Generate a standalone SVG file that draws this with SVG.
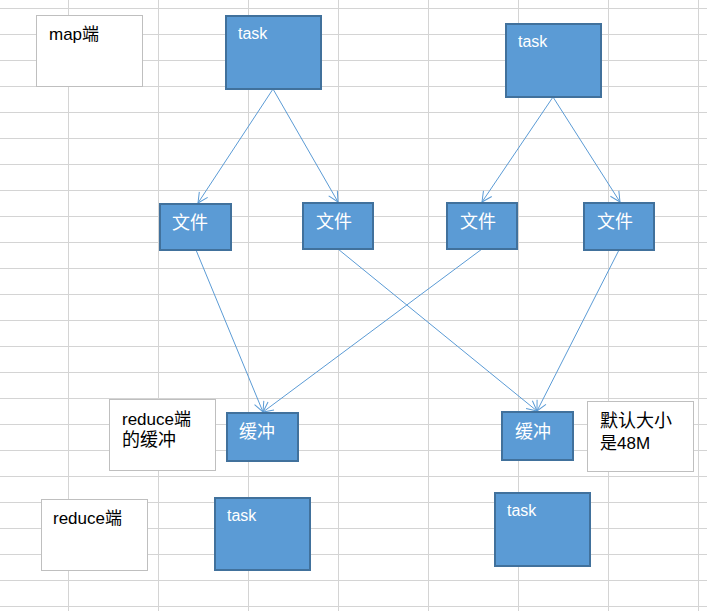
<svg xmlns="http://www.w3.org/2000/svg" width="707" height="611" viewBox="0 0 707 611">
<style>
.grid{stroke:#d4d4d4;stroke-width:1;fill:none}
.note{fill:#fff;stroke:#bfbfbf;stroke-width:1}
.blue{fill:#5b9bd5;stroke:#41719c;stroke-width:2}
.lbl{font-family:"Liberation Sans","Noto Sans CJK SC",sans-serif;font-size:17px;fill:#000}
.cjk{font-size:18px}
.wt{font-family:"Liberation Sans","Noto Sans CJK SC",sans-serif;font-size:16px;fill:#fff}
.wc{font-family:"Liberation Sans","Noto Sans CJK SC",sans-serif;font-size:18px;fill:#fff}
.conn{stroke:#5b9bd5;stroke-width:1;fill:none}
</style>
<defs>
<marker id="arr" viewBox="0 0 12 12" refX="11" refY="6" markerWidth="12" markerHeight="12" markerUnits="userSpaceOnUse" orient="auto">
<path d="M1,1 L11,6 L1,11" fill="none" stroke="#5b9bd5" stroke-width="1"/>
</marker>
</defs>
<rect width="707" height="611" fill="#fff"/>
<g id="grid" class="grid">
<path d="M68.5,0V611M158.5,0V611M248.5,0V611M338.5,0V611M428.5,0V611M518.5,0V611M608.5,0V611M698.5,0V611"/>
<path d="M0,8.5H707M0,34.5H707M0,60.5H707M0,86.5H707M0,112.5H707M0,138.5H707M0,164.5H707M0,190.5H707M0,216.5H707M0,242.5H707M0,268.5H707M0,294.5H707M0,320.5H707M0,346.5H707M0,372.5H707M0,398.5H707M0,424.5H707M0,450.5H707M0,476.5H707M0,502.5H707M0,528.5H707M0,554.5H707M0,580.5H707M0,606.5H707"/>
</g>
<g id="connectors">
<line class="conn" x1="273" y1="89" x2="198" y2="203" marker-end="url(#arr)"/>
<line class="conn" x1="273" y1="89" x2="338" y2="202" marker-end="url(#arr)"/>
<line class="conn" x1="553" y1="97" x2="482" y2="202" marker-end="url(#arr)"/>
<line class="conn" x1="553" y1="97" x2="620" y2="202" marker-end="url(#arr)"/>
<line class="conn" x1="196" y1="250" x2="263" y2="412" marker-end="url(#arr)"/>
<line class="conn" x1="482" y1="249" x2="263" y2="412" marker-end="url(#arr)"/>
<line class="conn" x1="338" y1="249" x2="537" y2="411" marker-end="url(#arr)"/>
<line class="conn" x1="619" y1="250" x2="537" y2="411" marker-end="url(#arr)"/>
</g>
<g id="map-label"><rect class="note" x="36.5" y="15.5" width="106" height="71"/><text class="lbl" x="49" y="40">map端</text></g>
<g id="task-1"><rect class="blue" x="226" y="16" width="95" height="73"/><text class="wt" x="238" y="39">task</text></g>
<g id="task-2"><rect class="blue" x="506" y="24" width="95" height="73"/><text class="wt" x="518" y="47">task</text></g>
<g id="file-1"><rect class="blue" x="160" y="204" width="71" height="46"/><text class="wc" x="172" y="229">文件</text></g>
<g id="file-2"><rect class="blue" x="303" y="203" width="70" height="46"/><text class="wc" x="316" y="228">文件</text></g>
<g id="file-3"><rect class="blue" x="447" y="203" width="70" height="46"/><text class="wc" x="460" y="228">文件</text></g>
<g id="file-4"><rect class="blue" x="584" y="203" width="70" height="47"/><text class="wc" x="597" y="228">文件</text></g>
<g id="reduce-buffer-label"><rect class="note" x="109.5" y="399.5" width="106" height="71"/><text class="lbl" x="122" y="425">reduce端</text><text class="lbl cjk" x="122" y="446">的缓冲</text></g>
<g id="buffer-1"><rect class="blue" x="227" y="413" width="71" height="48"/><text class="wc" x="239" y="438">缓冲</text></g>
<g id="buffer-2"><rect class="blue" x="502" y="412" width="71" height="48"/><text class="wc" x="515" y="438">缓冲</text></g>
<g id="size-label"><rect class="note" x="587.5" y="401.5" width="106" height="70"/><text class="lbl cjk" x="600" y="427">默认大小</text><text class="lbl" x="600" y="449">是48M</text></g>
<g id="reduce-label"><rect class="note" x="41.5" y="499.5" width="106" height="71"/><text class="lbl" x="53" y="524">reduce端</text></g>
<g id="task-3"><rect class="blue" x="215" y="498" width="95" height="72"/><text class="wt" x="227" y="521">task</text></g>
<g id="task-4"><rect class="blue" x="495" y="493" width="95" height="73"/><text class="wt" x="507" y="516">task</text></g>
</svg>
